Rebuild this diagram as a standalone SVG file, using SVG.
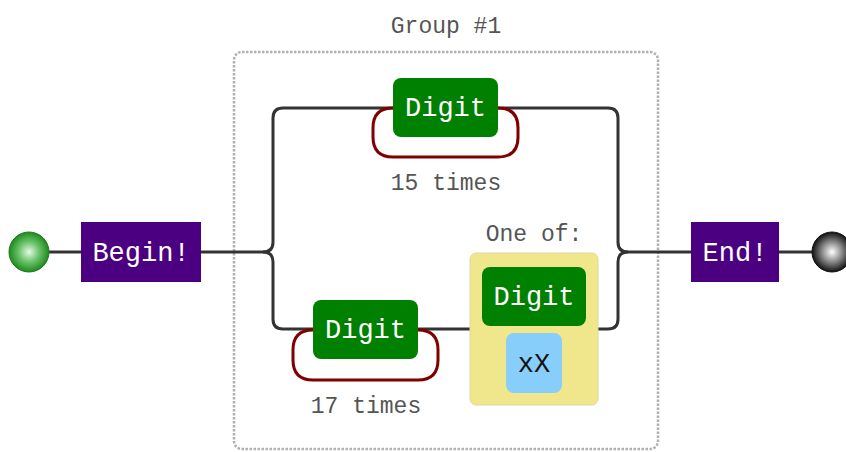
<svg xmlns="http://www.w3.org/2000/svg" width="846" height="452" viewBox="0 0 846 452">
<defs>
<radialGradient id="gStart" cx="50%" cy="50%" r="50%">
<stop offset="0" stop-color="#e8f8e8"/>
<stop offset="0.5" stop-color="#6cc46c"/>
<stop offset="1" stop-color="#1e8a1e"/>
</radialGradient>
<radialGradient id="gEnd" cx="50%" cy="50%" r="50%">
<stop offset="0" stop-color="#ffffff"/>
<stop offset="0.5" stop-color="#8a8a8a"/>
<stop offset="1" stop-color="#111111"/>
</radialGradient>
<style>
.line{fill:none;stroke:#333;stroke-width:3}
.loop{fill:none;stroke:#800000;stroke-width:3}
.anchor{fill:#4b0082}
.esc{fill:#008000}
.lit{fill:#87cefa}
.set{fill:#f0e68c;stroke:#e0d8a0;stroke-width:1}
.group{fill:none;stroke:#b0b0b0;stroke-width:2.5;stroke-dasharray:2.5,1.5}
.t{font-family:"Liberation Mono","DejaVu Sans Mono",monospace;text-anchor:middle}
.tw{fill:#fff;font-size:27px}
.tb{fill:#111;font-size:27px}
.lbl{fill:#555;font-size:23px}
</style>
</defs>
<g id="group1">
<rect class="group" x="234" y="52" width="424" height="397" rx="8"/>
<text class="t lbl" x="446" y="33">Group #1</text>
</g>
<g id="connectors">
<path class="line" d="M49,252 H81"/>
<path class="line" d="M201,252 H263"/>
<path class="line" d="M263,252 q10,0 10,-10 V118 q0,-10 10,-10 H393"/>
<path class="line" d="M498,108 H608 q10,0 10,10 V242 q0,10 10,10"/>
<path class="line" d="M263,252 q10,0 10,10 V319 q0,10 10,10 H313"/>
<path class="line" d="M418,329 H470"/>
<path class="line" d="M598,329 H608 q10,0 10,-10 V262 q0,-10 10,-10"/>
<path class="line" d="M628,252 H691"/>
<path class="line" d="M779,252 H812"/>
<path class="loop" d="M393,108 q-20,0 -20,20 v9 q0,20 20,20 H498 q20,0 20,-20 v-9 q0,-20 -20,-20"/>
<path class="loop" d="M313,330 q-20,0 -20,20 v10 q0,20 20,20 H418 q20,0 20,-20 v-10 q0,-20 -20,-20"/>
</g>
<g id="start"><circle cx="29" cy="252" r="20" fill="url(#gStart)" stroke="#1e7a1e" stroke-width="1"/></g>
<g id="begin">
<rect class="anchor" x="81" y="222" width="120" height="60"/>
<text class="t tw" x="141" y="261">Begin!</text>
</g>
<g id="digit1">
<rect class="esc" x="393" y="78" width="105" height="59" rx="8"/>
<text class="t tw" x="445.5" y="116">Digit</text>
</g>
<g id="times15"><text class="t lbl" x="446" y="190">15 times</text></g>
<g id="digit2">
<rect class="esc" x="313" y="300" width="105" height="59" rx="8"/>
<text class="t tw" x="365.5" y="338">Digit</text>
</g>
<g id="times17"><text class="t lbl" x="366" y="413">17 times</text></g>
<g id="oneof">
<text class="t lbl" x="534" y="241">One of:</text>
<rect class="set" x="470" y="253" width="128" height="152" rx="6"/>
</g>
<g id="digit3">
<rect class="esc" x="482" y="267" width="104" height="59" rx="8"/>
<text class="t tw" x="534" y="305">Digit</text>
</g>
<g id="xX">
<rect class="lit" x="506" y="333" width="56" height="60" rx="8"/>
<text class="t tb" x="534" y="372">xX</text>
</g>
<g id="end">
<rect class="anchor" x="691" y="222" width="88" height="60"/>
<text class="t tw" x="735" y="261">End!</text>
</g>
<g id="finish"><circle cx="832" cy="252" r="20" fill="url(#gEnd)" stroke="#111" stroke-width="1"/></g>
</svg>
